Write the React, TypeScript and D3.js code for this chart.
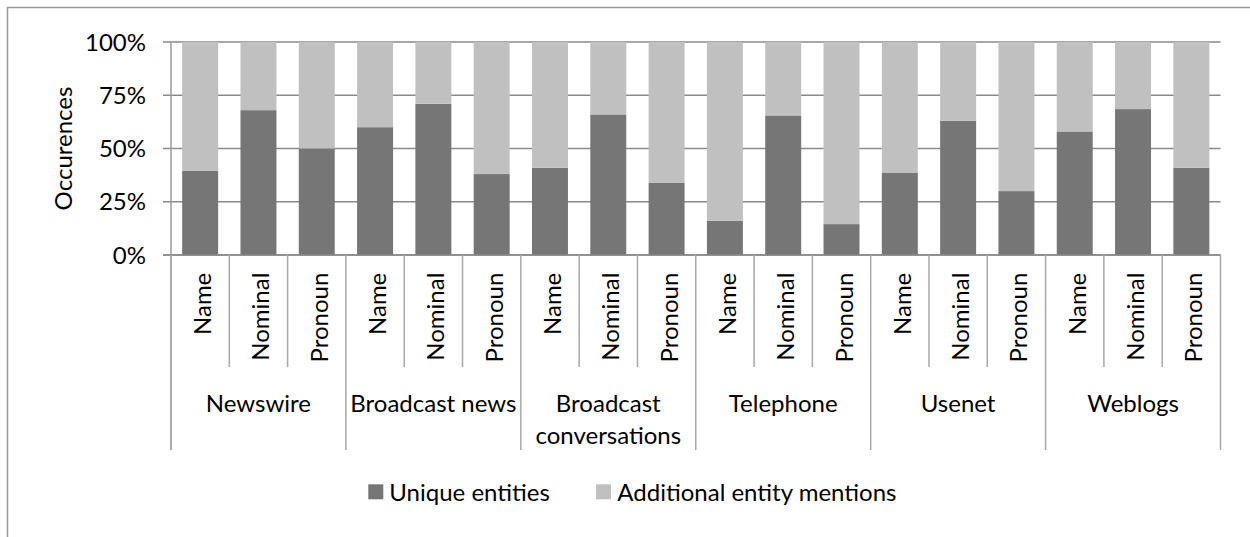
import React from "react";
import * as d3 from "d3";

const subCategories = ["Name", "Nominal", "Pronoun"];
const groupLabels: string[][] = [
  ["Newswire"],
  ["Broadcast news"],
  ["Broadcast", "conversations"],
  ["Telephone"],
  ["Usenet"],
  ["Weblogs"],
];
const uniqueEntities = [39.5, 68, 50, 60, 71, 38, 41, 66, 34, 16, 65.5, 14.5, 38.5, 63, 30, 58, 68.5, 41];
const additionalMentions = [60.5, 32, 50, 40, 29, 62, 59, 34, 66, 84, 34.5, 85.5, 61.5, 37, 70, 42, 31.5, 59];
const seriesNames = ["Unique entities", "Additional entity mentions"];
const seriesColors = ["#767676", "#c0c0c0"];
const yTicks = [0, 0.25, 0.5, 0.75, 1];

const W = 1250;
const H = 537;
const FONT = "Lato, 'Open Sans', sans-serif";

export default function App() {
  const rows = uniqueEntities.map((u, i) => ({
    idx: String(i),
    sub: subCategories[i % 3],
    u,
    a: additionalMentions[i],
  }));
  const stack = d3.stack<any>().keys(["u", "a"]).offset(d3.stackOffsetExpand);
  const stacked = stack(rows);

  const x0 = 171;
  const x1 = 1220.5;
  const x = d3
    .scaleBand<string>()
    .domain(rows.map((r) => r.idx))
    .range([x0, x1])
    .paddingInner(0.383)
    .paddingOuter(0.1915);
  const step = x.step();
  const y = d3.scaleLinear().domain([0, 1]).range([255, 42]);
  const fmt = d3.format(".0%");

  const sepShort = 367;
  const sepLong = 450;

  return (
    <svg
      width={W}
      height={H}
      style={{ position: "absolute", left: 0, top: 0, background: "#fff" }}
      fontFamily={FONT}
    >
      <rect x={7.5} y={7.5} width={W + 20} height={H + 20} fill="#fff" stroke="#9a9a9a" strokeWidth={1.5} />
      {/* gridlines */}
      {yTicks.map((t) => (
        <line key={"g" + t} x1={163} x2={x1} y1={y(t)} y2={y(t)} stroke="#8a8a8a" strokeWidth={1.3} />
      ))}
      {/* bars */}
      {stacked.map((s, si) => (
        <g key={s.key} fill={seriesColors[si]}>
          {s.map((d, i) => (
            <rect
              key={i}
              x={x(rows[i].idx)}
              width={x.bandwidth()}
              y={y(d[1])}
              height={y(d[0]) - y(d[1])}
            />
          ))}
        </g>
      ))}
      {/* y axis line */}
      <line x1={x0} x2={x0} y1={y(1)} y2={sepLong} stroke="#9a9a9a" strokeWidth={1.5} />
      {/* x axis line */}
      <line x1={163} x2={x1} y1={y(0)} y2={y(0)} stroke="#8a8a8a" strokeWidth={1.5} />
      {/* y tick labels */}
      {yTicks.map((t) => (
        <text key={"t" + t} x={146} y={y(t) + 8.5} textAnchor="end" fontSize={24} fill="#000">
          {fmt(t)}
        </text>
      ))}
      {/* y title */}
      <text
        transform={`translate(${71.5},${(y(0) + y(1)) / 2}) rotate(-90)`}
        textAnchor="middle"
        fontSize={24}
        fill="#000"
      >
        Occurences
      </text>
      {/* category separators */}
      {d3.range(rows.length + 1).map((i) => {
        const xx = x0 + i * step;
        const long = i % 3 === 0;
        return (
          <line
            key={"s" + i}
            x1={xx}
            x2={xx}
            y1={y(0)}
            y2={long ? sepLong : sepShort}
            stroke="#a8a8a8"
            strokeWidth={1.5}
          />
        );
      })}
      {/* sub category labels */}
      {rows.map((r) => {
        const cx = (x(r.idx) as number) + x.bandwidth() / 2;
        return (
          <text
            key={"l" + r.idx}
            transform={`translate(${cx + 11},${272.7}) rotate(-90)`}
            textAnchor="end"
            fontSize={24}
            fill="#000"
          >
            {r.sub}
          </text>
        );
      })}
      {/* group labels */}
      {groupLabels.map((lines, gi) => {
        const cx = x0 + step * (gi * 3 + 1.5);
        return (
          <text key={"gl" + gi} textAnchor="middle" fontSize={24} fill="#000">
            {lines.map((ln, li) => (
              <tspan key={li} x={cx} y={412 + li * 31.6}>
                {ln}
              </tspan>
            ))}
          </text>
        );
      })}
      {/* legend */}
      <g>
        <rect x={368.3} y={484.3} width={15} height={15} fill={seriesColors[0]} />
        <text x={389.3} y={500.5} fontSize={24} fill="#000">
          {seriesNames[0]}
        </text>
        <rect x={596} y={484.3} width={15} height={15} fill={seriesColors[1]} />
        <text x={617.3} y={500.5} fontSize={24} fill="#000">
          {seriesNames[1]}
        </text>
      </g>
    </svg>
  );
}
